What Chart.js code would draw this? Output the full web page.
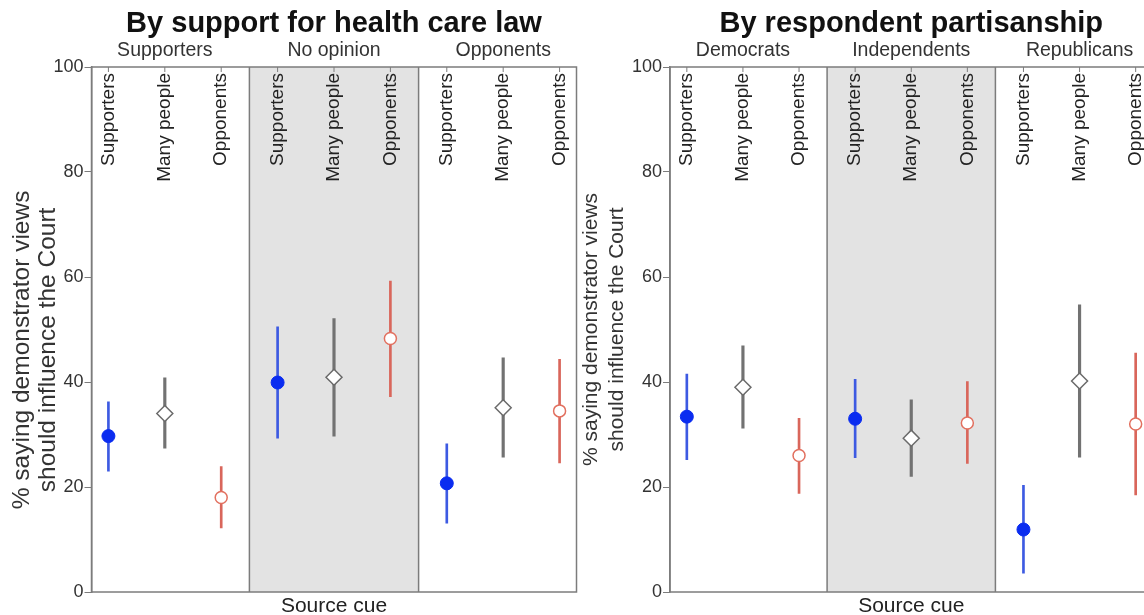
<!DOCTYPE html>
<html><head><meta charset="utf-8">
<script src="https://cdn.jsdelivr.net/npm/chart.js@4.4.1/dist/chart.umd.min.js"></script>
<style>
html,body{margin:0;padding:0;background:#fff;overflow:hidden;}
#wrap{position:relative;width:1144px;height:615px;overflow:hidden;background:#fff;}
#c1{position:absolute;left:0;top:0;}
#c2{position:absolute;left:572px;top:0;}
</style></head><body>
<div id="wrap"><canvas id="c1" width="586" height="620"></canvas><canvas id="c2" width="590" height="620"></canvas></div>
<script>
// ---- data ----
const cues = ['Supporters', 'Many people', 'Opponents'];
const yTicks = [0, 20, 40, 60, 80, 100];
const yTitle = ['% saying demonstrator views', 'should influence the Court'];
const xTitle = 'Source cue';

const leftTitle = 'By support for health care law';
const leftGroups = ['Supporters', 'No opinion', 'Opponents'];
// values per cue, across groups
const leftSupEst  = [29.7, 39.9, 20.7];
const leftSupLo   = [23.0, 29.3, 13.1];
const leftSupHi   = [36.2, 50.5, 28.2];
const leftManyEst = [34.0, 40.9, 35.1];
const leftManyLo  = [27.4, 29.7, 25.7];
const leftManyHi  = [40.8, 52.1, 44.6];
const leftOppEst  = [18.0, 48.3, 34.5];
const leftOppLo   = [12.2, 37.2, 24.6];
const leftOppHi   = [23.9, 59.2, 44.3];

const rightTitle = 'By respondent partisanship';
const rightGroups = ['Democrats', 'Independents', 'Republicans'];
const rightSupEst  = [33.4, 33.0, 11.9];
const rightSupLo   = [25.2, 25.6, 3.6];
const rightSupHi   = [41.5, 40.5, 20.3];
const rightManyEst = [39.0, 29.3, 40.2];
const rightManyLo  = [31.2, 22.0, 25.7];
const rightManyHi  = [46.9, 36.6, 54.7];
const rightOppEst  = [26.0, 32.2, 32.0];
const rightOppLo   = [18.8, 24.5, 18.5];
const rightOppHi   = [33.1, 40.1, 45.5];

// ---- styles ----
const FONT = "'Liberation Sans', Arial, Helvetica, sans-serif";
const lineColors = ['#3d5ae2', '#727272', '#d9665b'];
const lineWidths = [2, 2.5, 2];
const markerStyles = [
  {pointStyle: 'circle', pointRadius: 6.5, pointBackgroundColor: '#0a2cf0', pointBorderColor: '#0a2cf0', pointBorderWidth: 1},
  {pointStyle: 'rectRot', pointRadius: 8, pointBackgroundColor: '#ffffff', pointBorderColor: '#6a6a6a', pointBorderWidth: 1.5},
  {pointStyle: 'circle', pointRadius: 6, pointBackgroundColor: '#ffffff', pointBorderColor: '#e2705f', pointBorderWidth: 1.5}
];

function makeDatasets(est, lo, hi) {
  const ds = [];
  cues.forEach((cue, c) => {
    ds.push({
      type: 'bar', label: cue + ' interval',
      data: est[c].map((v, g) => ({x: g * cues.length + c, y: [lo[c][g], hi[c][g]]})),
      backgroundColor: lineColors[c], borderWidth: 0, barThickness: lineWidths[c],
      grouped: false, order: 2
    });
  });
  cues.forEach((cue, c) => {
    ds.push(Object.assign({
      type: 'scatter', label: cue,
      data: est[c].map((v, g) => ({x: g * cues.length + c, y: v})),
      showLine: false, order: 1
    }, markerStyles[c]));
  });
  return ds;
}

function panelPlugin(groups) {
  const n = cues.length;
  return {
    id: 'panelDecor',
    beforeDraw(chart) {
      const {ctx, chartArea: a, scales: {x}} = chart;
      const x1 = x.getPixelForValue(n - 0.5), x2 = x.getPixelForValue(2 * n - 0.5);
      ctx.save();
      ctx.fillStyle = '#e3e3e3';
      ctx.fillRect(x1, a.top, x2 - x1, a.bottom - a.top);
      ctx.restore();
    },
    beforeDatasetsDraw(chart) {
      const {ctx, chartArea: a, scales: {x}} = chart;
      ctx.save();
      ctx.strokeStyle = '#7c7c7c';
      ctx.lineWidth = 1.5;
      ctx.strokeRect(a.left, a.top, a.right - a.left, a.bottom - a.top);
      for (let g = 1; g < groups.length; g++) {
        const px = x.getPixelForValue(g * n - 0.5);
        ctx.beginPath(); ctx.moveTo(px, a.top); ctx.lineTo(px, a.bottom); ctx.stroke();
      }
      ctx.restore();
    },
    afterDraw(chart) {
      const {ctx, chartArea: a, scales: {x}} = chart;
      ctx.save();
      // inner top tick marks + rotated cue labels
      ctx.strokeStyle = '#7c7c7c'; ctx.lineWidth = 1;
      ctx.fillStyle = '#222';
      ctx.font = '19px ' + FONT;
      groups.forEach((gname, g) => {
        cues.forEach((cue, c) => {
          const px = x.getPixelForValue(g * n + c);
          ctx.beginPath(); ctx.moveTo(px, a.top); ctx.lineTo(px, a.top + 5); ctx.stroke();
          ctx.save();
          ctx.translate(px, a.top + 6);
          ctx.rotate(-Math.PI / 2);
          ctx.textAlign = 'right'; ctx.textBaseline = 'middle';
          ctx.fillText(cue, 0, 0);
          ctx.restore();
        });
      });
      // group labels above the panel
      ctx.fillStyle = '#333';
      ctx.font = '19.5px ' + FONT;
      ctx.textAlign = 'center'; ctx.textBaseline = 'alphabetic';
      groups.forEach((gname, g) => {
        ctx.fillText(gname, x.getPixelForValue(g * n + (n - 1) / 2), a.top - 11);
      });
      ctx.restore();
    }
  };
}

function makeChart(canvasId, title, groups, est, lo, hi, yWidth, yTitleSize, yTitlePad, yTitleText, padRight) {
  const n = cues.length;
  return new Chart(document.getElementById(canvasId), {
    type: 'scatter',
    data: {datasets: makeDatasets(est, lo, hi)},
    options: {
      responsive: false, animation: false,
      layout: {padding: {left: 0, right: padRight, top: 0, bottom: 0}},
      plugins: {
        legend: {display: false}, tooltip: {enabled: false},
        title: {
          display: true, text: title, fullSize: false, color: '#111',
          font: {family: FONT, size: 29, weight: 'bold', lineHeight: 1.2},
          padding: {top: 7, bottom: 25.2}
        }
      },
      scales: {
        x: {
          type: 'linear', offset: false,
          min: -0.3, max: groups.length * n - 1 + 0.3,
          grid: {display: false}, border: {display: false},
          ticks: {display: false},
          title: {display: true, text: xTitle, color: '#222', font: {family: FONT, size: 21}, padding: {top: 0, bottom: 1}},
          afterFit: s => { s.height = 28; }
        },
        y: {
          min: 0, max: 100,
          afterBuildTicks: s => { s.ticks = yTicks.map(v => ({value: v})); },
          grid: {drawOnChartArea: false, drawTicks: true, tickLength: 7, color: '#7c7c7c', lineWidth: 1},
          border: {display: true, color: '#7c7c7c', width: 1.5},
          ticks: {color: '#333', font: {family: FONT, size: 18}, padding: 1},
          title: {display: true, text: yTitleText, color: '#333', font: {family: FONT, size: yTitleSize, lineHeight: '26px'}, padding: {top: yTitlePad, bottom: 0}},
          afterFit: s => { s.width = yWidth; }
        }
      }
    },
    plugins: [panelPlugin(groups)]
  });
}

// left panel's axis title sits a little below the panel's middle in the reference
const leftYTitle = yTitle.map(t => t + '      ');

makeChart('c1', leftTitle, leftGroups,
  [leftSupEst, leftManyEst, leftOppEst], [leftSupLo, leftManyLo, leftOppLo], [leftSupHi, leftManyHi, leftOppHi],
  91.5, 24.5, 9, leftYTitle, 5);
makeChart('c2', rightTitle, rightGroups,
  [rightSupEst, rightManyEst, rightOppEst], [rightSupLo, rightManyLo, rightOppLo], [rightSupHi, rightManyHi, rightOppHi],
  98, 21, 6, yTitle, 4);
</script>
</body></html>
